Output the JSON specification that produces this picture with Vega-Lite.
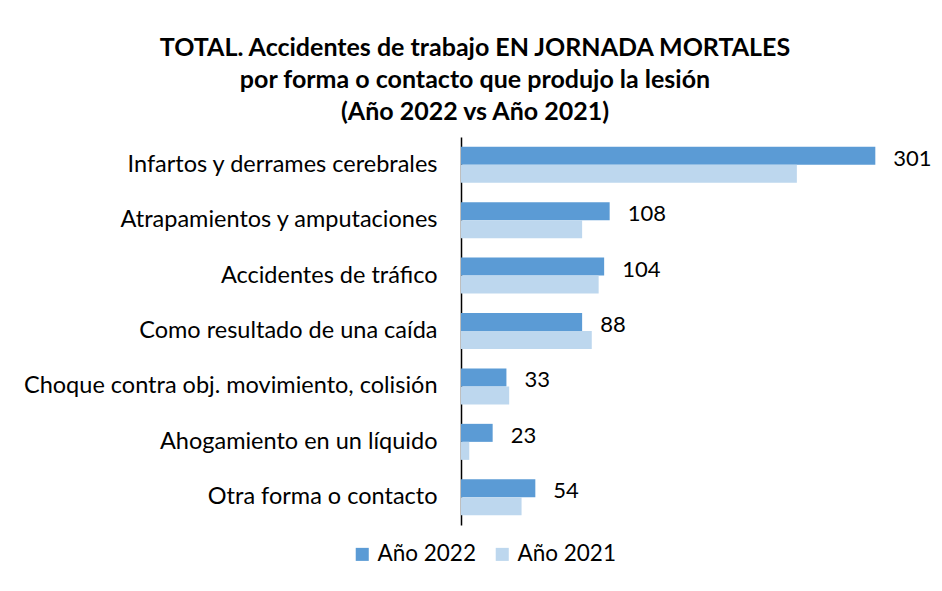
{
  "$schema": "https://vega.github.io/schema/vega-lite/v6.json",
  "width": 468,
  "height": 388,
  "autosize": {"type": "none"},
  "padding": {"left": 461, "top": 137, "right": 13, "bottom": 66},
  "background": "white",
  "title": {
    "text": ["TOTAL. Accidentes de trabajo EN JORNADA MORTALES", "por forma o contacto que produjo la lesión", "(Año 2022 vs Año 2021)"],
    "font": "Lato",
    "fontSize": 25,
    "fontWeight": "bold",
    "color": "#000000",
    "anchor": "middle",
    "lineHeight": 32,
    "dx": -220,
    "dy": 2,
    "offset": 14
  },
  "data": {
    "values": [
      {"forma": "Infartos y derrames cerebrales", "anio": "Año 2022", "valor": 301},
      {"forma": "Infartos y derrames cerebrales", "anio": "Año 2021", "valor": 244},
      {"forma": "Atrapamientos y amputaciones", "anio": "Año 2022", "valor": 108},
      {"forma": "Atrapamientos y amputaciones", "anio": "Año 2021", "valor": 88},
      {"forma": "Accidentes de tráfico", "anio": "Año 2022", "valor": 104},
      {"forma": "Accidentes de tráfico", "anio": "Año 2021", "valor": 100},
      {"forma": "Como resultado de una caída", "anio": "Año 2022", "valor": 88},
      {"forma": "Como resultado de una caída", "anio": "Año 2021", "valor": 95},
      {"forma": "Choque contra obj. movimiento, colisión", "anio": "Año 2022", "valor": 33},
      {"forma": "Choque contra obj. movimiento, colisión", "anio": "Año 2021", "valor": 35},
      {"forma": "Ahogamiento en un líquido", "anio": "Año 2022", "valor": 23},
      {"forma": "Ahogamiento en un líquido", "anio": "Año 2021", "valor": 6},
      {"forma": "Otra forma o contacto", "anio": "Año 2022", "valor": 54},
      {"forma": "Otra forma o contacto", "anio": "Año 2021", "valor": 44}
    ]
  },
  "encoding": {
    "y": {
      "field": "forma",
      "type": "nominal",
      "sort": null,
      "scale": {"paddingInner": 0.35, "paddingOuter": 0.175},
      "axis": {
        "title": null,
        "domain": true,
        "domainColor": "#000000",
        "domainWidth": 1.5,
        "ticks": false,
        "grid": false,
        "labelFont": "Lato",
        "labelFontSize": 23.5,
        "labelColor": "#000000",
        "labelPadding": 24,
        "labelLimit": 500
      }
    },
    "x": {
      "field": "valor",
      "type": "quantitative",
      "scale": {"domain": [0, 340], "nice": false},
      "axis": null
    }
  },
  "layer": [
    {
      "mark": {"type": "bar"},
      "encoding": {
        "yOffset": {"field": "anio", "type": "nominal", "scale": {"domain": ["Año 2022", "Año 2021"], "paddingInner": 0, "paddingOuter": 0}},
        "color": {
          "field": "anio",
          "type": "nominal",
          "scale": {"domain": ["Año 2022", "Año 2021"], "range": ["#5B9BD5", "#BDD7EE"]},
          "legend": {
            "title": null,
            "orient": "none",
            "legendX": -110,
            "legendY": 406,
            "direction": "horizontal",
            "symbolType": "square",
            "symbolSize": 170,
            "symbolStrokeWidth": 0,
            "labelFont": "Lato",
            "labelFontSize": 22.5,
            "labelColor": "#000000",
            "columnPadding": 15,
            "labelOffset": 4
          }
        }
      }
    },
    {
      "transform": [{"filter": "datum.anio == 'Año 2022'"}],
      "mark": {"type": "text", "align": "left", "baseline": "middle", "dx": 18, "dy": -6, "font": "Lato", "fontSize": 22, "color": "#000000"},
      "encoding": {
        "text": {"field": "valor", "type": "quantitative"}
      }
    }
  ],
  "config": {"view": {"stroke": null}}
}
